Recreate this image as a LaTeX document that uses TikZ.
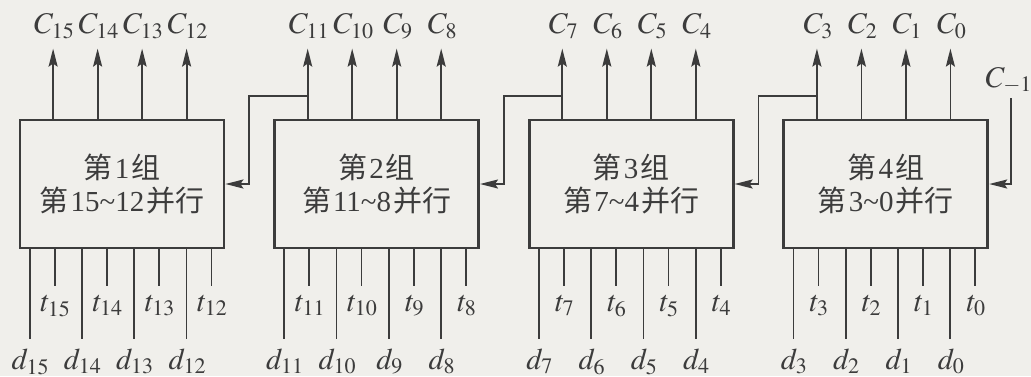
\documentclass[tikz,border=0pt]{standalone}
\usepackage{mathptmx}
\usepackage{fontspec}
\setmainfont{Liberation Serif}
\newfontfamily\cjk{Noto Sans CJK SC}
\DeclareMathSizes{15}{15}{11}{8}
\usetikzlibrary{arrows.meta, positioning, calc}
\definecolor{bgcol}{RGB}{240,239,235}
\definecolor{inkcol}{RGB}{60,60,60}
\newcommand{\zu}[2]{{\cjk 第}\kern1pt#1\kern1pt{\cjk 组}\\{\cjk 第}\kern1pt#2\kern1pt{\cjk 并行}}

\begin{document}
\begin{tikzpicture}[
    x=0.5pt, y=0.5pt,
    node distance=23.9pt,
    box/.style={rectangle, draw=inkcol, line width=1.4pt, align=center, minimum width=102pt, minimum height=64pt, inner sep=0pt, text=inkcol, font=\fontsize{14.5}{17}\selectfont},
    arrow/.style={draw=inkcol, line width=0.9pt, -{Stealth[length=9pt,width=4.5pt,inset=1.5pt]}},
    wire/.style={draw=inkcol, line width=0.9pt},
    lab/.style={anchor=base, inner sep=0pt, text=inkcol, font=\fontsize{15}{17}\selectfont}
]
    \useasboundingbox[fill=bgcol] (0,0) rectangle (1031,-376);

    % Groups
    \node[box] (g1) at (122,-184) {\zu{1}{15\textasciitilde12}};
    \node[box, right=of g1] (g2) {\zu{2}{11\textasciitilde8}};
    \node[box, right=of g2] (g3) {\zu{3}{7\textasciitilde4}};
    \node[box, right=of g3] (g4) {\zu{4}{3\textasciitilde0}};

    % Carry outputs, t and d inputs
    \foreach \g/\n in {g1/15, g2/11, g3/7, g4/3} {
      \foreach \i in {0,...,3} {
        \pgfmathtruncatemacro{\k}{\n-\i}
        \coordinate (cb\k) at ($(\g.north west)+(34.5+44.5*\i,0)$);
        \coordinate (ct\k) at ($(cb\k)+(0,70)$);
        \draw[arrow] (cb\k) -- (ct\k);
        \node[lab] (c\k) at ($(cb\k)+(1.5,85)$) {$C_{\k}$};
        \coordinate (db\k) at ($(\g.south west)+(11+52.3*\i,0)$);
        \coordinate (de\k) at ($(db\k)+(0,-90)$);
        \draw[wire] (db\k) -- (de\k);
        \node[lab] (d\k) at ($(db\k)+(1,-120)$) {$d_{\k}$};
        \coordinate (tb\k) at ($(\g.south west)+(36+52.3*\i,0)$);
        \coordinate (te\k) at ($(tb\k)+(0,-37)$);
        \draw[wire] (tb\k) -- (te\k);
        \node[lab] (t\k) at ($(tb\k)+(1,-62)$) {$t_{\k}$};
      }
    }

    % Carries between groups
    \foreach \a/\b/\k in {g1/g2/11, g2/g3/7, g3/g4/3} {
      \coordinate (tap\k) at ($(cb\k)+(0,23)$);
      \coordinate (mid\k) at ($(\a.east)!0.5!(\b.west)$);
      \draw[arrow] (tap\k) -| (mid\k) -- (\a.east);
    }

    % Carry in
    \node[lab] (cin) at (1009,-87) {$C_{-1}$};
    \coordinate (cinb) at (1011,-98);
    \draw[arrow] (cinb) |- (g4.east);
\end{tikzpicture}
\end{document}
